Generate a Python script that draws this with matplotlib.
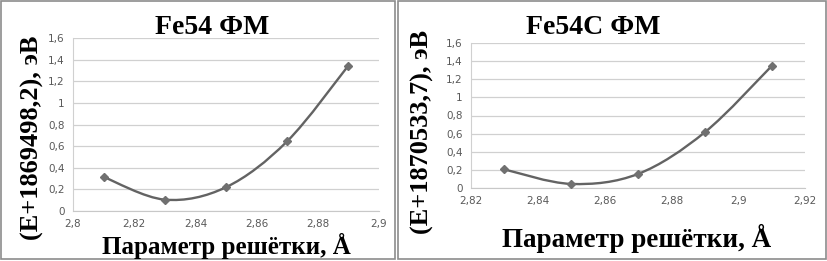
import matplotlib.pyplot as plt
from matplotlib.path import Path
from matplotlib.patches import PathPatch, Rectangle
import numpy as np

# Данные: параметр решётки (Å) и энергия (эВ)
x_fe54 = [2.81, 2.83, 2.85, 2.87, 2.89]
y_fe54 = [0.315, 0.105, 0.22, 0.645, 1.345]

x_fe54c = [2.83, 2.85, 2.87, 2.89, 2.91]
y_fe54c = [0.205, 0.045, 0.155, 0.615, 1.345]

titles = ['Fe54 ФМ', 'Fe54C ФМ']
ylabels = ['(E+1869498,2), эВ', '(E+1870533,7), эВ']
xlabel = 'Параметр решётки, Å'

xticks_fe54 = [2.8, 2.82, 2.84, 2.86, 2.88, 2.9]
xticks_fe54c = [2.82, 2.84, 2.86, 2.88, 2.9, 2.92]
yticks = [0, 0.2, 0.4, 0.6, 0.8, 1.0, 1.2, 1.4, 1.6]

W, H = 827, 261
LINE = '#636363'
SERIF = 'Liberation Serif'


def fmt(v):
    s = ('%.2f' % v).rstrip('0').rstrip('.')
    return s.replace('.', ',')


def smooth_path(xs, ys):
    # сглаженная линия как в Excel (кривые Безье через точки)
    p = np.column_stack([xs, ys])
    n = len(p)
    verts = [p[0]]
    codes = [Path.MOVETO]
    for i in range(n - 1):
        p0 = p[i - 1] if i > 0 else p[i]
        p3 = p[i + 2] if i + 2 < n else p[i + 1]
        c1 = p[i] + (p[i + 1] - p0) / 6
        c2 = p[i + 1] - (p3 - p[i]) / 6
        verts += [c1, c2, p[i + 1]]
        codes += [Path.CURVE4] * 3
    return Path(verts, codes)


def px(x0, y0, x1, y1):
    # пиксели -> доли фигуры (x0,y0 левый верх)
    return [x0 / W, 1 - y1 / H, (x1 - x0) / W, (y1 - y0) / H]


fig = plt.figure(figsize=(W / 100, H / 100), dpi=100)

panels = [
    dict(x=x_fe54, y=y_fe54, xt=xticks_fe54, box=px(73, 38, 379, 211),
         frame=(1, 1, 395, 259), title_xy=(212, 27), yl_xy=(32, 138), xl_xy=(226, 246), fs=18),
    dict(x=x_fe54c, y=y_fe54c, xt=xticks_fe54c, box=px(471, 43, 805, 188),
         frame=(398, 1, 826, 259), title_xy=(593, 28), yl_xy=(422, 132), xl_xy=(637, 238), fs=19.5),
]

for k, pnl in enumerate(panels):
    ax = fig.add_axes(pnl['box'])
    ax.set_xlim(pnl['xt'][0], pnl['xt'][-1])
    ax.set_ylim(0, 1.6)
    ax.set_xticks(pnl['xt'])
    ax.set_xticklabels([fmt(v) for v in pnl['xt']])
    ax.set_yticks(yticks)
    ax.set_yticklabels([fmt(v) for v in yticks])
    ax.tick_params(length=0, labelsize=7.5, colors='#595959', pad=6)
    ax.grid(axis='y', color='#d0d0d0', lw=0.9)
    ax.set_axisbelow(True)
    for s in ['top', 'right']:
        ax.spines[s].set_visible(False)
    ax.spines['left'].set_color('#d0d0d0')
    ax.spines['bottom'].set_color('#c8c8c8')

    ax.add_patch(PathPatch(smooth_path(pnl['x'], pnl['y']), fill=False,
                           edgecolor=LINE, lw=1.7, zorder=3))
    ax.plot(pnl['x'], pnl['y'], ls='none', marker='D', ms=4.5,
            color='#707070', zorder=4)

    fx, fy = pnl['title_xy']
    fig.text(fx / W, 1 - fy / H, titles[k], ha='center', va='center',
             fontsize=20, fontweight='bold', family=SERIF)
    fx, fy = pnl['yl_xy']
    fig.text(fx / W, 1 - fy / H, ylabels[k], ha='center', va='center',
             rotation=90, fontsize=19, fontweight='bold', family=SERIF)
    fx, fy = pnl['xl_xy']
    fig.text(fx / W, 1 - fy / H, xlabel, ha='center', va='center',
             fontsize=pnl['fs'], fontweight='bold', family=SERIF)

    x0, y0, x1, y1 = pnl['frame']
    fig.patches.append(Rectangle((x0 / W, 1 - y1 / H), (x1 - x0) / W, (y1 - y0) / H,
                                 transform=fig.transFigure, fill=False,
                                 edgecolor='#8c8c8c', lw=1.2))

fig.savefig('out.png', dpi=100)
